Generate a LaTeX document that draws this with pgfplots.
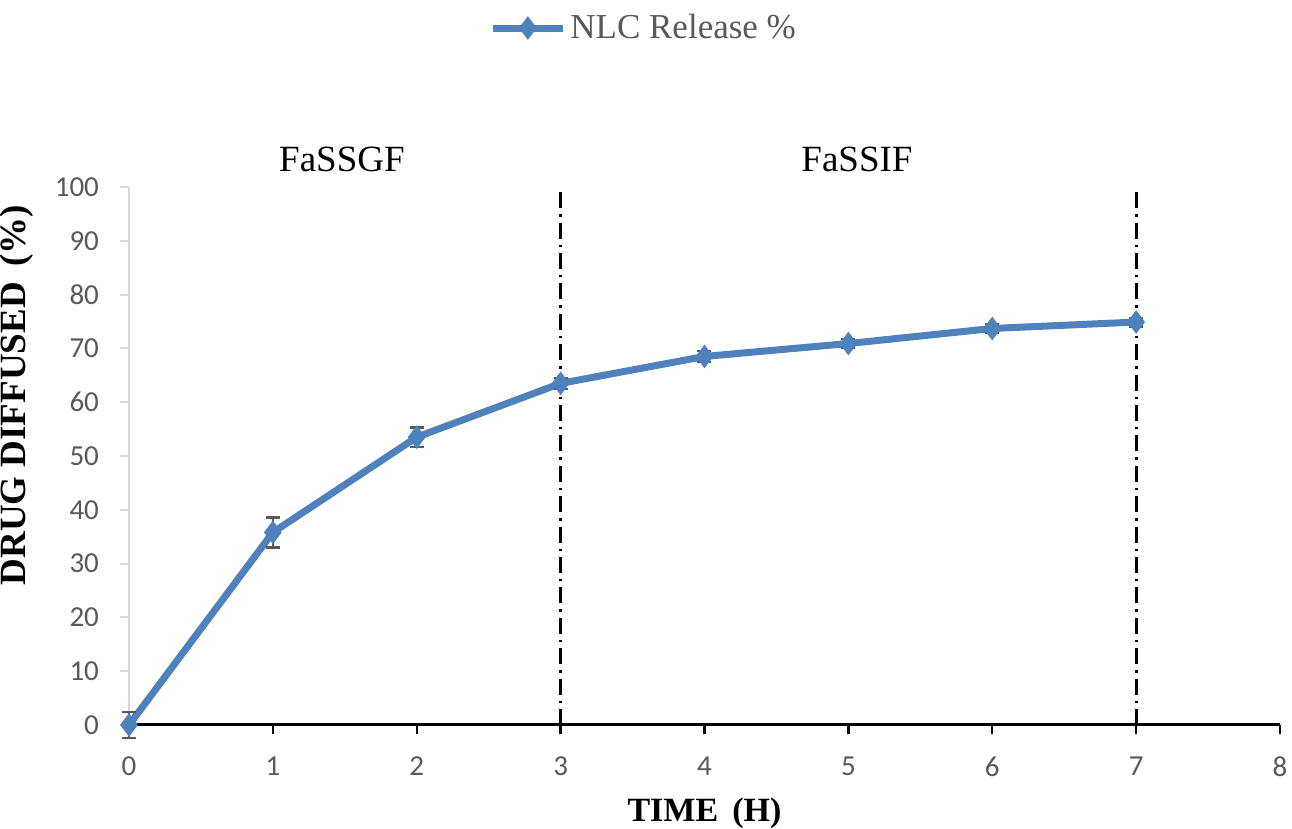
\documentclass[border=0pt]{standalone}
\usepackage{pgfplots}
\pgfplotsset{compat=1.18}
\usepackage{fontspec}
\setmainfont{Liberation Serif}
\newfontfamily\carlito{Carlito}
\definecolor{lineblue}{RGB}{79,129,189}
\definecolor{tickgray}{RGB}{89,89,89}
\definecolor{axgray}{RGB}{217,217,217}
\begin{document}
\begin{tikzpicture}
\begin{axis}[
  name=ax, at={(0,0)}, anchor=south west,
  scale only axis, width=575.5pt, height=269pt,
  xmin=0, xmax=8, ymin=0, ymax=100,
  xtick={0,...,8}, ytick={0,10,...,100},
  axis x line=bottom, axis y line=left,
  x axis line style={-, black, line width=1.5pt},
  y axis line style={-, axgray, line width=1pt},
  xtick style={black, line width=1.2pt},
  ytick style={axgray, line width=1pt},
  tick align=outside, major tick length=4.5pt,
  tick label style={font=\carlito\fontsize{14.5}{15}\selectfont, text=tickgray},
  /pgf/number format/assume math mode=true,
  xticklabel style={yshift=-8pt},
  yticklabel style={xshift=-7pt},
  xlabel={\textbf{TIME\, (H)}},
  ylabel={\textbf{DRUG DIFFUSED\, (\%)}},
  xlabel style={font=\fontsize{17}{17}\selectfont, at={(axis description cs:0.5,-0.1636)}, anchor=center},
  ylabel style={font=\fontsize{18.5}{18.5}\selectfont, at={(axis description cs:-0.0973,0.613)}, anchor=center, rotate=0},
  clip=false,
  legend style={at={(axis description cs:0.448,1.2955)}, anchor=center, draw=none,
    font=\fontsize{17.5}{18}\selectfont, text=tickgray},
  legend cell align=left,
  legend image code/.code={
    \draw[#1, mark repeat=2, mark phase=2] plot coordinates {(0pt,0pt) (17.5pt,0pt) (35pt,0pt)};
  },
]
\addplot[lineblue, line width=3.5pt, mark=diamond*, mark size=5.5pt,
  mark options={fill=lineblue, draw=lineblue, line width=0.5pt},
  error bars/.cd, y dir=both, y explicit,
  error bar style={tickgray, line width=1.2pt},
  error mark options={rotate=90, mark size=3.5pt, tickgray, line width=1.2pt}]
  coordinates {
  (0,0) +- (0,2.4)
  (1,35.8) +- (0,2.8)
  (2,53.5) +- (0,1.8)
  (3,63.5) +- (0,1.0)
  (4,68.5) +- (0,1.0)
  (5,70.9) +- (0,0.8)
  (6,73.7) +- (0,0.8)
  (7,74.9) +- (0,0.8)
  };
\addlegendentry{NLC Release \%}
\addplot[black, line width=1.4pt, dash pattern=on 8pt off 3pt on 1.2pt off 3pt, forget plot] coordinates {(3,0) (3,100)};
\addplot[black, line width=1.4pt, dash pattern=on 8pt off 3pt on 1.2pt off 3pt, forget plot] coordinates {(7,0) (7,100)};
\node[font=\fontsize{18.5}{18.5}\selectfont, anchor=center] at (axis cs:1.48,105.2) {FaSSGF};
\node[font=\fontsize{18.5}{18.5}\selectfont, anchor=center] at (axis cs:5.06,105.2) {FaSSIF};
\end{axis}
\pgfresetboundingbox
\path (-64.5pt,-52pt) rectangle (581.5pt,362.5pt);
\end{tikzpicture}
\end{document}
